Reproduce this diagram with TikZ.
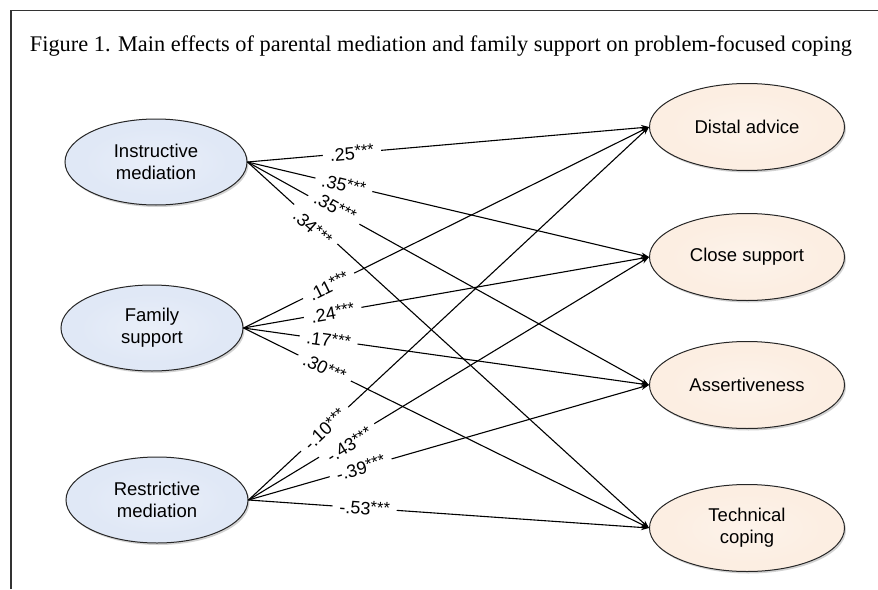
\documentclass[tikz,border=0pt]{standalone}
\usepackage{fontspec}
\usepackage{graphicx}
\setmainfont{Liberation Sans}
\newfontfamily\titlefont{Liberation Serif}
\usetikzlibrary{arrows.meta,shapes.geometric,shadows}
\definecolor{bluein}{HTML}{E0E8F6}
\definecolor{bluerim}{HTML}{A7B3C7}
\definecolor{peachin}{HTML}{FCEEE2}
\definecolor{peachrim}{HTML}{D3BEAB}
\definecolor{framegray}{HTML}{333333}
\pgfdeclareradialshading{bluebevel}{\pgfpoint{0bp}{0bp}}{color(0bp)=(bluein!70!white); color(20bp)=(bluein); color(42bp)=(bluein); color(50bp)=(bluerim); color(100bp)=(bluerim)}
\pgfdeclareradialshading{peachbevel}{\pgfpoint{0bp}{0bp}}{color(0bp)=(peachin!70!white); color(20bp)=(peachin); color(42bp)=(peachin); color(50bp)=(peachrim); color(100bp)=(peachrim)}
\newcommand\coef[1]{#1\raisebox{2.5pt}{\fontsize{16.5}{16.5}\selectfont ***}}
\begin{document}
\begin{tikzpicture}[x=1pt,y=-1pt,
  latent/.style={ellipse, minimum width=182pt, minimum height=86pt, draw=black!85,
    line width=1pt, inner sep=0pt, align=center,
    font=\fontsize{18.5}{22}\selectfont,
    drop shadow={shadow xshift=1.5pt, shadow yshift=-2pt, opacity=0.35}},
  srcnode/.style={latent, shading=bluebevel},
  outnode/.style={latent, minimum width=195pt, minimum height=87pt, shading=peachbevel},
  path/.style={line width=1.1pt, -{Stealth[length=8pt,width=5.5pt]}},
  labbox/.style={sloped, fill=white, inner xsep=7pt, inner ysep=0pt, font=\fontsize{18}{18}\selectfont},
  labtext/.style={sloped, inner xsep=7pt, inner ysep=0pt, font=\fontsize{18}{18}\selectfont}]
\useasboundingbox (0,0) rectangle (878,589);
\fill[white] (0,0) rectangle (878,589);
\draw[framegray, line width=1.4pt] (11,589) -- (11,10.5) -- (878,10.5);
\node (title) at (441,46) {\titlefont\resizebox{822pt}{!}{Figure 1. Main effects of parental mediation and family support on problem-focused coping}};

\node[srcnode] (im) at (156,162) {Instructive\\mediation};
\node[srcnode] (fs) at (152,328) {Family\\support};
\node[srcnode] (rm) at (157,500) {Restrictive\\mediation};
\node[outnode] (da) at (747,127) {Distal advice};
\node[outnode] (cs) at (747,257) {Close support};
\node[outnode] (as) at (747,385) {Assertiveness};
\node[outnode] (tc) at (747,528) {Technical\\coping};

\foreach \s in {im,fs,rm}{
  \foreach \t in {da,cs,as,tc}{
    \draw[path] (\s.east) -- (\t.west);
  }
}

\def\lablist{im/da/0.26/.25/0, im/cs/0.24/.35/0, im/as/0.215/.35/3, im/tc/0.17/.34/-4.5,
  fs/da/0.21/.11/0, fs/cs/0.22/.24/0, fs/as/0.21/.17/0, fs/tc/0.20/.30/0,
  rm/da/0.19/-.10/0, rm/cs/0.245/-.43/-5, rm/as/0.28/-.39/0, rm/tc/0.29/-.53/0}
\foreach \s/\t/\p/\v/\o in \lablist{
  \path (\s.east) -- (\t.west) node[labbox,pos=\p,yshift=\o pt] {\phantom{\coef{\v}}};
}
\foreach \s/\t/\p/\v/\o in \lablist{
  \path (\s.east) -- (\t.west) node[labtext,pos=\p,yshift=\o pt] {\coef{\v}};
}
\end{tikzpicture}
\end{document}
